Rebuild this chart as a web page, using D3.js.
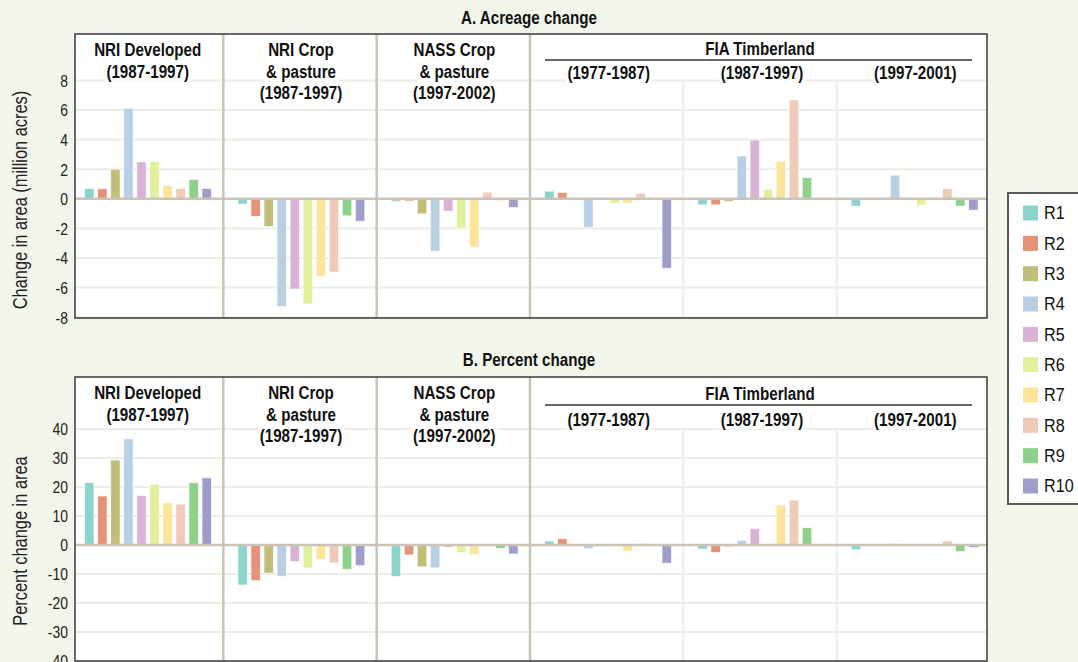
<!DOCTYPE html>
<html>
<head>
<meta charset="utf-8">
<script src="https://cdn.jsdelivr.net/npm/d3@7"></script>
<style>
  html, body { margin: 0; padding: 0; background: #f2f5e9; }
  svg { display: block; }
</style>
</head>
<body>
<svg id="chart" width="1078" height="662"></svg>
<script>
// ---------------- DATA ----------------
const regions = ["R1","R2","R3","R4","R5","R6","R7","R8","R9","R10"];
const regionColors = ["#8cd3cb","#e39377","#c0bf79","#b9cfe4","#d9b2d6","#e0f09c","#fde49a","#f0cab8","#8ed18a","#9f9dc9"];

const groupIds = ["nriDev","nriCrop","nassCrop","fia7787","fia8797","fia9701"];
const groupHeaders = [
  ["NRI Developed","(1987-1997)"],
  ["NRI Crop","& pasture","(1987-1997)"],
  ["NASS Crop","& pasture","(1997-2002)"],
  [],[],[]
];
const fiaTitle = "FIA Timberland";
const fiaSubHeaders = ["(1977-1987)","(1987-1997)","(1997-2001)"];

// Panel A: change in area (million acres), R1..R10
const acreNriDeveloped = [0.70, 0.68, 2.0, 6.12, 2.5, 2.53, 0.9, 0.7, 1.31, 0.7];
const acreNriCrop      = [-0.36, -1.2, -1.88, -7.28, -6.1, -7.1, -5.25, -4.95, -1.15, -1.52];
const acreNassCrop     = [-0.17, -0.15, -1.02, -3.55, -0.84, -2.0, -3.28, 0.45, -0.1, -0.59];
const acreFia7787      = [0.52, 0.43, -0.08, -1.95, 0, -0.3, -0.3, 0.38, -0.05, -4.7];
const acreFia8797      = [-0.41, -0.41, -0.18, 2.89, 3.97, 0.65, 2.53, 6.69, 1.44, 0];
const acreFia9701      = [-0.5, 0, 0, 1.6, -0.05, -0.43, 0, 0.7, -0.5, -0.77];

// Panel B: percent change in area, R1..R10
const pctNriDeveloped = [21.5, 16.9, 29.3, 36.6, 17.1, 21.0, 14.6, 14.1, 21.5, 23.2];
const pctNriCrop      = [-13.8, -12.3, -9.7, -10.8, -5.7, -7.9, -4.9, -6.2, -8.4, -7.1];
const pctNassCrop     = [-10.9, -3.4, -7.5, -7.9, -0.8, -2.6, -3.3, 0, -1.2, -3.1];
const pctFia7787      = [1.4, 2.2, 0, -1.3, 0, -0.5, -2.1, 0.5, 0, -6.3];
const pctFia8797      = [-1.4, -2.6, -0.6, 1.6, 5.7, 0.5, 13.8, 15.5, 6.0, 0];
const pctFia9701      = [-1.6, 0, 0, 0.5, 0, -0.6, 0, 1.4, -2.3, -0.9];

const ticksA = [-8,-6,-4,-2,0,2,4,6,8];
const ticksB = [-40,-30,-20,-10,0,10,20,30,40];

// ---------------- LAYOUT ----------------
const fontMain = "'Liberation Sans','Arial',sans-serif";
const SX = 0.82;   // horizontal condensing to emulate a narrow face
const svg = d3.select("#chart");

const frameX0 = 75, frameX1 = 987;
const xGroup = d3.scaleBand().domain(groupIds).range([70, 990]).padding(0);
const xRegion = d3.scaleBand().domain(regions).range([14.5, 141.5]).paddingInner(0.27).paddingOuter(0);
const color = d3.scaleOrdinal().domain(regions).range(regionColors);

const panels = [
  { title: "A. Acreage change", titleY: 18, top: 34, bottom: 318,
    y: d3.scaleLinear().domain([-8, 8]).range([317.2, 80.4]), ticks: ticksA,
    ylabel: "Change in area (million acres)", ylabelDy: 24,
    data: [acreNriDeveloped, acreNriCrop, acreNassCrop, acreFia7787, acreFia8797, acreFia9701],
    fiaLineDy: 26, fiaTitleDy: 15, fiaSubDy: 39, fiaDivDy: 46 },
  { title: "B. Percent change", titleY: 360, top: 377, bottom: 661,
    y: d3.scaleLinear().domain([-40, 40]).range([661, 429]), ticks: ticksB,
    ylabel: "Percent change in area", ylabelDy: 22,
    data: [pctNriDeveloped, pctNriCrop, pctNassCrop, pctFia7787, pctFia8797, pctFia9701],
    fiaLineDy: 28, fiaTitleDy: 16.5, fiaSubDy: 43, fiaDivDy: 52 }
];

function condText(parent, x, y, txt, o) {
  const g = parent.append("g").attr("transform", `translate(${x},${y})${o.rotate ? " rotate(" + o.rotate + ")" : ""} scale(${o.sx || SX},1)`);
  const t = g.append("text")
    .attr("x", 0).attr("y", 0)
    .attr("text-anchor", o.anchor || "middle")
    .attr("dominant-baseline", "central")
    .attr("font-family", fontMain)
    .attr("font-weight", o.bold ? "bold" : "normal")
    .attr("font-size", o.size)
    .attr("fill", o.fill || "#111")
    .text(txt);
  if (o.bg) {
    const bb = t.node().getBBox();
    g.insert("rect", () => t.node())
      .attr("x", bb.x - 2).attr("y", bb.y + 1)
      .attr("width", bb.width + 4).attr("height", bb.height - 2)
      .attr("fill", "#fff");
  }
  return g;
}

panels.forEach(p => {
  const g = svg.append("g");
  const y = p.y;
  const y0 = y(0);

  // plot area
  g.append("rect").attr("x", frameX0).attr("y", p.top)
    .attr("width", frameX1 - frameX0).attr("height", p.bottom - p.top)
    .attr("fill", "#fff");

  // gridlines
  g.append("g").selectAll("line").data(p.ticks.filter(d => d !== 0)).join("line")
    .attr("x1", frameX0).attr("x2", frameX1)
    .attr("y1", d => y(d)).attr("y2", d => y(d))
    .attr("stroke", "#eeece6").attr("stroke-width", 2);

  // FIA sub-dividers (light)
  [groupIds[4], groupIds[5]].forEach(id => {
    g.append("line")
      .attr("x1", xGroup(id)).attr("x2", xGroup(id))
      .attr("y1", p.top + p.fiaDivDy).attr("y2", p.bottom)
      .attr("stroke", "#eeece6").attr("stroke-width", 2);
  });

  // bars
  groupIds.forEach((id, gi) => {
    const vals = p.data[gi];
    g.append("g").attr("transform", `translate(${xGroup(id)},0)`)
      .selectAll("rect").data(vals.map((v, i) => ({ r: regions[i], v })))
      .join("rect")
      .attr("x", d => xRegion(d.r))
      .attr("width", xRegion.bandwidth())
      .attr("y", d => Math.min(y(d.v), y0))
      .attr("height", d => Math.abs(y(d.v) - y0))
      .attr("fill", d => color(d.r))
      .attr("stroke", "rgba(255,255,255,0.7)")
      .attr("stroke-width", 1);
  });

  // zero line
  g.append("line").attr("x1", frameX0).attr("x2", frameX1)
    .attr("y1", y0).attr("y2", y0)
    .attr("stroke", "#cbc3b5").attr("stroke-width", 2.5);

  // main group dividers
  groupIds.slice(1, 4).forEach(id => {
    g.append("line")
      .attr("x1", xGroup(id)).attr("x2", xGroup(id))
      .attr("y1", p.top).attr("y2", p.bottom)
      .attr("stroke", "#cbc3b5").attr("stroke-width", 2.5);
  });

  // headers
  const lineDy = [16, 37.5, 59];
  groupIds.forEach((id, gi) => {
    const cx = xGroup(id) + xGroup.bandwidth() / 2 + 1;
    groupHeaders[gi].forEach((ln, li) => {
      condText(g, cx, p.top + lineDy[li], ln, { size: 18.5, bold: true, bg: true });
    });
  });
  // FIA super header
  const fiaX0 = xGroup(groupIds[3]), fiaX1 = xGroup(groupIds[5]) + xGroup.bandwidth();
  condText(g, (fiaX0 + fiaX1) / 2, p.top + p.fiaTitleDy, fiaTitle, { size: 18.5, bold: true, bg: true });
  g.append("line").attr("x1", fiaX0 + 15).attr("x2", fiaX1 - 18)
    .attr("y1", p.top + p.fiaLineDy).attr("y2", p.top + p.fiaLineDy)
    .attr("stroke", "#333").attr("stroke-width", 1.5);
  fiaSubHeaders.forEach((s, i) => {
    const id = groupIds[3 + i];
    condText(g, xGroup(id) + xGroup.bandwidth() / 2 + 2, p.top + p.fiaSubDy, s, { size: 18.5, bold: true, bg: true });
  });

  // frame
  g.append("rect").attr("x", frameX0).attr("y", p.top)
    .attr("width", frameX1 - frameX0).attr("height", p.bottom - p.top)
    .attr("fill", "none").attr("stroke", "#3a3a3a").attr("stroke-width", 1.5);

  // y axis tick labels
  const axis = d3.axisLeft(y).tickValues(p.ticks).tickSize(0).tickPadding(0)
    .tickFormat(d => d < 0 ? "-" + Math.abs(d) : String(d));
  const ag = g.append("g").attr("transform", "translate(68,0)").call(axis);
  ag.select(".domain").remove();
  ag.selectAll("text")
    .attr("font-family", fontMain).attr("font-size", 17).attr("fill", "#222")
    .attr("x", 0).attr("dy", "0.35em")
    .attr("transform", "scale(0.82,1)");

  // y axis label
  condText(g, 20, (p.top + p.bottom) / 2 + p.ylabelDy, p.ylabel,
    { size: 20, rotate: -90, fill: "#222" });

  // panel title
  condText(svg, 529, p.titleY, p.title, { size: 18.5, bold: true });
});

// ---------------- LEGEND ----------------
const lg = svg.append("g");
lg.append("rect").attr("x", 1008).attr("y", 193).attr("width", 90).attr("height", 311)
  .attr("fill", "#fff").attr("stroke", "#5a5a5a").attr("stroke-width", 2);
const ly = d3.scalePoint().domain(regions).range([213, 486]);
const items = lg.selectAll("g.item").data(regions).join("g")
  .attr("class", "item")
  .attr("transform", d => `translate(1023,${ly(d)})`);
items.append("rect").attr("x", 0).attr("y", -7.5).attr("width", 15).attr("height", 15)
  .attr("fill", d => color(d));
items.append("text").attr("x", 21).attr("y", 0)
  .attr("dominant-baseline", "central")
  .attr("transform", "translate(21,0) scale(0.85,1) translate(-21,0)")
  .attr("font-family", fontMain).attr("font-size", 19).attr("fill", "#111")
  .text(d => d);
</script>
</body>
</html>
